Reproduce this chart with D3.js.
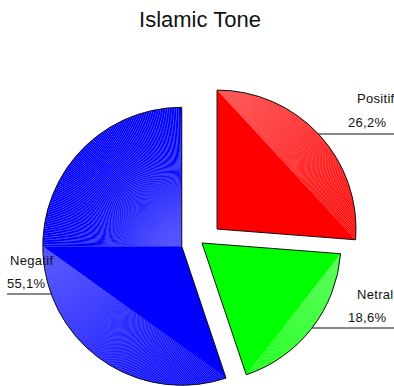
<!DOCTYPE html>
<html>
<head>
<meta charset="utf-8">
<script src="https://cdn.jsdelivr.net/npm/d3@7"></script>
<style>
  body { margin: 0; background: #fff; }
  text { font-family: "Liberation Sans", Arial, sans-serif; fill: #111; }
</style>
</head>
<body>
<div id="chart"></div>
<script>
const categories = ["Positif", "Netral", "Negatif"];
const values = [26.2, 18.6, 55.1];
const colors = ["#ff0000", "#00ff00", "#0000ff"];
const explode = [20.5, 0, 20.5];

const width = 394;
const height = 386;
const radius = 139;
const cx = 202;
const cy = 243;

const pctFormat = d3.formatLocale({ decimal: ",", thousands: ".", grouping: [3], currency: ["", ""] }).format(".1f");

const svg = d3
  .select("#chart")
  .append("svg")
  .attr("width", width)
  .attr("height", height);

svg
  .append("text")
  .attr("x", 200)
  .attr("y", 27)
  .attr("text-anchor", "middle")
  .style("font-size", "22px")
  .text("Islamic Tone");

const pie = d3.pie().sort(null).startAngle(0).endAngle(2 * Math.PI);
const arcs = pie(values);
const arc = d3.arc().innerRadius(0).outerRadius(radius);

const pt = a => [Math.sin(a) * radius, -Math.cos(a) * radius];

// the slices are filled as fans of thin triangles, the seams give the stripes
const fan = (pivot, pts) => {
  const tris = [];
  for (let i = 0; i < pts.length - 1; i++) tris.push([pivot, pts[i], pts[i + 1]]);
  return tris;
};
const arcPoints = (a0, a1) => {
  const n = Math.max(2, Math.round((a1 - a0) / (Math.PI / 240)));
  return d3.range(n + 1).map(i => pt(a0 + ((a1 - a0) * i) / n));
};

const slices = svg
  .append("g")
  .selectAll("g")
  .data(arcs)
  .enter()
  .append("g")
  .attr("transform", (d, i) => {
    const mid = (d.startAngle + d.endAngle) / 2;
    return `translate(${cx + Math.sin(mid) * explode[i]}, ${cy - Math.cos(mid) * explode[i]})`;
  });

slices.each(function (d, i) {
  const g = d3.select(this);
  let tris = [];
  if (d.endAngle - d.startAngle > Math.PI) {
    const split = 1.5 * Math.PI;
    const low = arcPoints(d.startAngle, split);
    tris = tris.concat(fan(low[low.length - 1], low));
    tris.push([low[low.length - 1], [0, 0], low[0]]);
    tris = tris.concat(fan([0, 0], arcPoints(split, d.endAngle)));
  } else {
    const p = arcPoints(d.startAngle, d.endAngle);
    tris = tris.concat(fan(p[0], p));
    tris.push([p[0], p[p.length - 1], [0, 0]]);
  }
  g.selectAll("path.tri")
    .data(tris)
    .enter()
    .append("path")
    .attr("class", "tri")
    .attr("d", t => "M" + t.join("L") + "Z")
    .style("fill", colors[i]);
  g.append("path")
    .attr("d", arc(d))
    .style("fill", "none")
    .style("stroke", "#111")
    .style("stroke-width", 1);
});

// label rows: baseline of name, baseline of percent, leader line y
const labelRows = [
  { name: 103, pct: 127, line: 134, side: "right" },
  { name: 299, pct: 322, line: 328, side: "right" },
  { name: 265, pct: 288, line: 294, side: "left" }
];

arcs.forEach((d, i) => {
  const mid = (d.startAngle + d.endAngle) / 2;
  const ox = cx + Math.sin(mid) * explode[i];
  const oy = cy - Math.cos(mid) * explode[i];
  const row = labelRows[i];
  const dy = row.line - oy;
  const dx = Math.sqrt(radius * radius - dy * dy);
  const g = svg.append("g").style("font-size", "13px").style("letter-spacing", "0.3px");
  if (row.side === "right") {
    g.append("line")
      .attr("x1", ox + dx).attr("x2", width)
      .attr("y1", row.line).attr("y2", row.line)
      .style("stroke", "#111");
    g.append("text").attr("x", 357).attr("y", row.name).text(categories[i]);
    g.append("text").attr("x", 348).attr("y", row.pct).text(pctFormat(values[i]) + "%");
  } else {
    g.append("line")
      .attr("x1", 7).attr("x2", ox - dx)
      .attr("y1", row.line).attr("y2", row.line)
      .style("stroke", "#111");
    g.append("text").attr("x", 10).attr("y", row.name).text(categories[i]);
    g.append("text").attr("x", 7).attr("y", row.pct).text(pctFormat(values[i]) + "%");
  }
});
</script>
</body>
</html>
